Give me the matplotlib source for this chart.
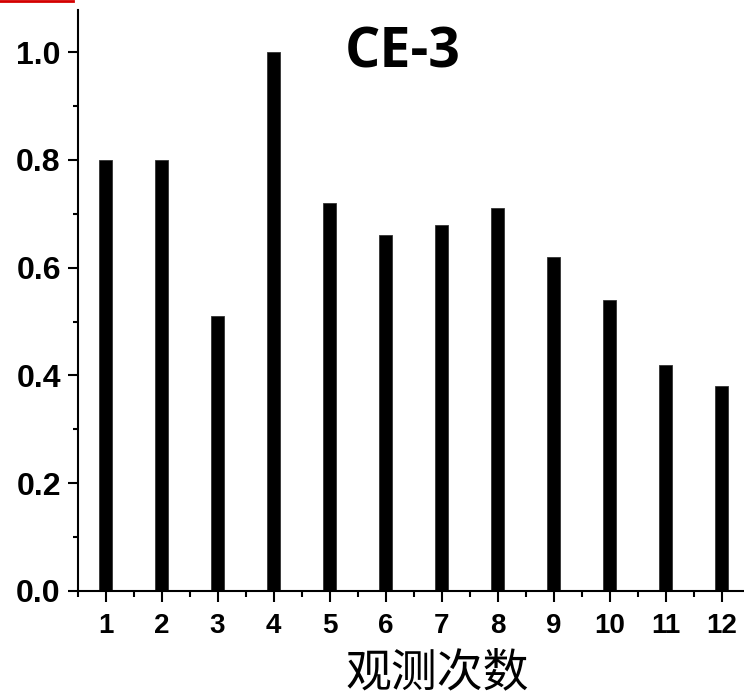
import matplotlib
matplotlib.use("Agg")
import matplotlib.pyplot as plt
from matplotlib.lines import Line2D
from matplotlib.ticker import MultipleLocator, FormatStrFormatter

# observation index and normalised values
runs = [1, 2, 3, 4, 5, 6, 7, 8, 9, 10, 11, 12]
values = [0.80, 0.80, 0.51, 1.00, 0.72, 0.66, 0.68, 0.71, 0.62, 0.54, 0.42, 0.38]
run_labels = [str(r) for r in runs]
title_text = "CE-3"
xlabel_text = "观测次数"

fig = plt.figure(figsize=(7.44, 6.97), dpi=100)
ax = fig.add_axes([77.5 / 744, 1 - 591 / 697, 1 - 77.5 / 744, (591 - 10) / 697])

ax.bar(runs, values, width=0.22, color="black", edgecolor="#333333", linewidth=0.6)

ax.set_xlim(0.5, 12.4)
ax.set_ylim(0, 1.078)
ax.set_xticks(runs)
ax.set_xticklabels(run_labels)
ax.xaxis.set_minor_locator(MultipleLocator(0.5))
ax.yaxis.set_major_locator(MultipleLocator(0.2))
ax.yaxis.set_minor_locator(MultipleLocator(0.1))
ax.yaxis.set_major_formatter(FormatStrFormatter("%.1f"))

for side in ("top", "right"):
    ax.spines[side].set_visible(False)
for side in ("left", "bottom"):
    ax.spines[side].set_linewidth(1.5)

ax.tick_params(axis="x", which="major", direction="out", length=8, width=1.5, pad=8)
ax.tick_params(axis="x", which="minor", direction="out", length=4.5, width=1.5)
ax.tick_params(axis="y", which="major", direction="out", length=7, width=1.5, pad=5)
ax.tick_params(axis="y", which="minor", direction="out", length=3.5, width=1.5)

for lbl in ax.get_xticklabels():
    lbl.set_fontfamily("Liberation Sans")
    lbl.set_fontweight("bold")
    lbl.set_fontsize(20)
for lbl in ax.get_yticklabels():
    lbl.set_fontfamily("Liberation Sans")
    lbl.set_fontweight("bold")
    lbl.set_fontsize(23)

fig.text(403 / 744, 1 - 53 / 697, title_text, ha="center", va="center",
         fontfamily="Open Sans", fontweight="bold", fontsize=40)
fig.text(437 / 744, 1 - 673 / 697, xlabel_text, ha="center", va="center",
         fontfamily=["Noto Sans CJK SC", "DejaVu Sans"], fontweight="normal", fontsize=33)

# short red rule in the upper-left corner
fig.add_artist(Line2D([0, 73 / 744], [1 - 1 / 697, 1 - 1 / 697], color="#d40000",
                      linewidth=2, transform=fig.transFigure))

fig.savefig("out.png", dpi=100)
